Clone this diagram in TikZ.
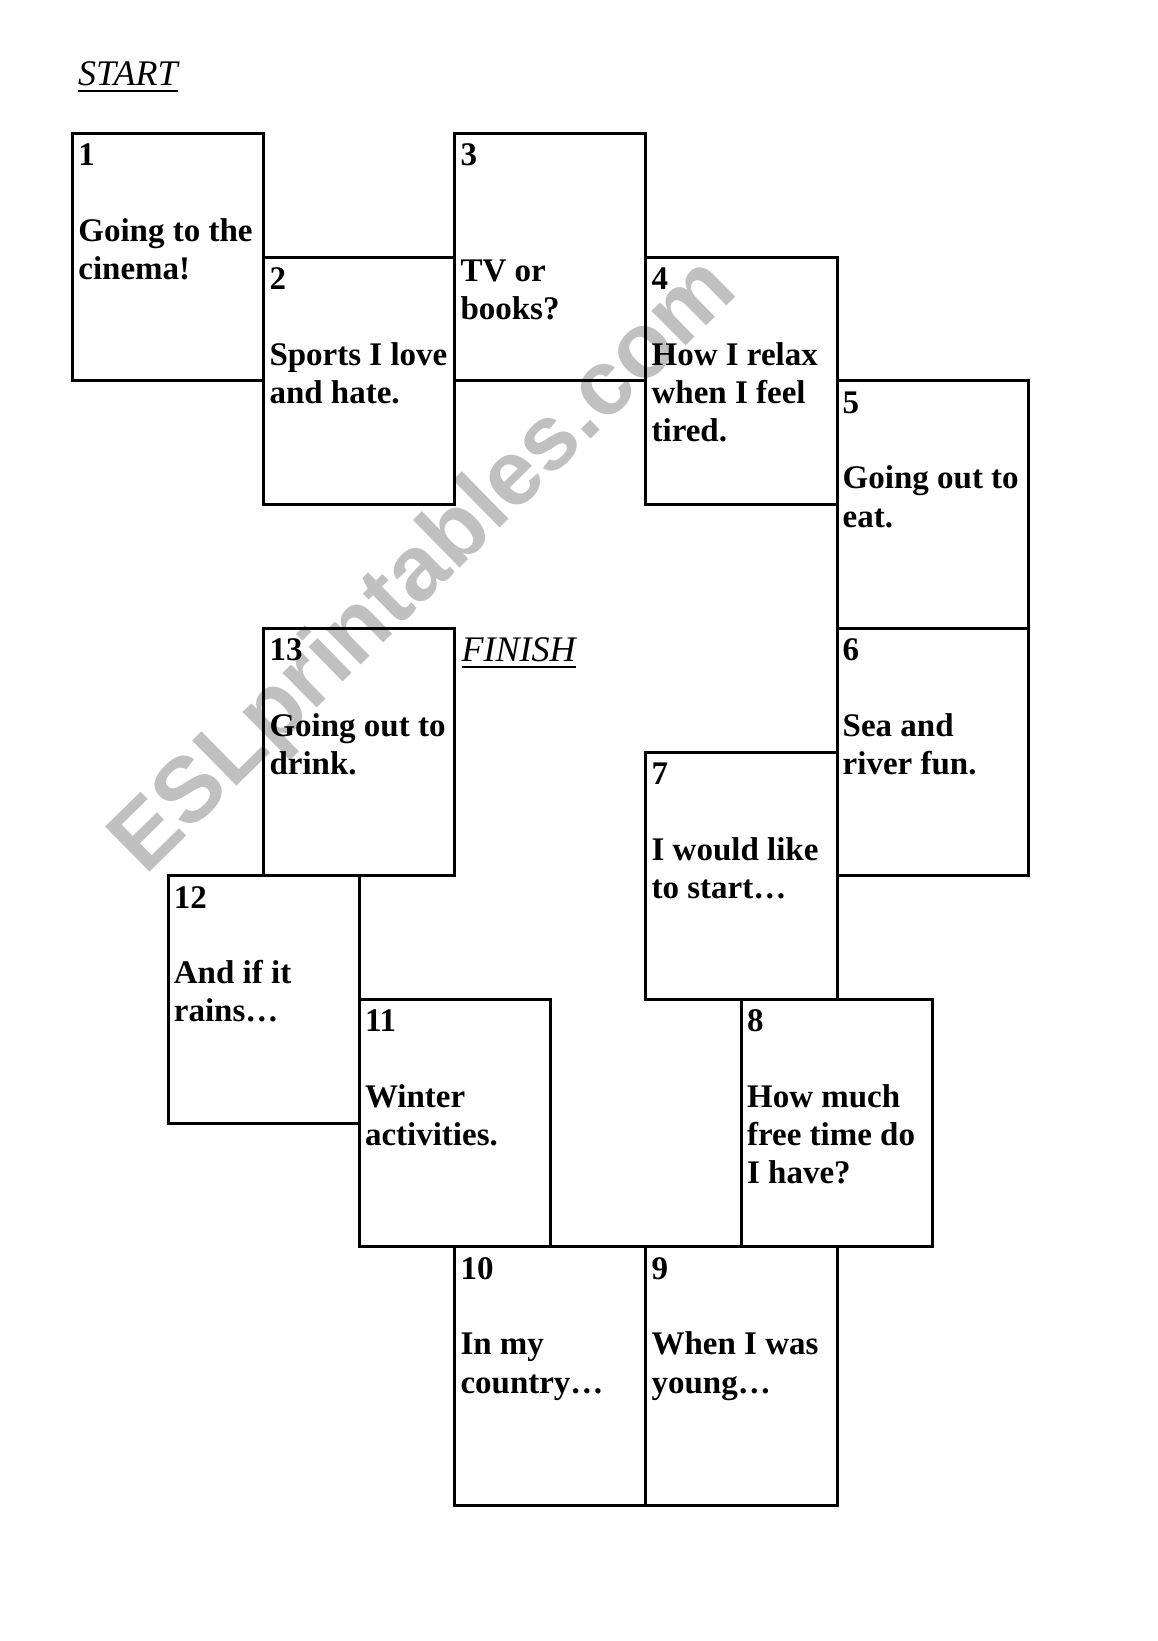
\documentclass[tikz,border=0pt]{standalone}
\usepackage{fontspec}
\setmainfont{Liberation Serif}
\newfontfamily\wmfont{Liberation Sans}
\usetikzlibrary{fit}
\definecolor{wmgray}{RGB}{192,192,192}
\tikzset{
  cardbox/.style={draw=black, line width=3pt, inner sep=0pt, outer sep=0pt},
  cardnum/.style={font=\fontsize{33}{38}\selectfont\bfseries, anchor=base west, inner sep=0pt},
  cardtxt/.style={cardnum},
  endlabel/.style={font=\fontsize{36}{40}\selectfont\itshape, anchor=base west, inner sep=0pt},
  uline/.style={line width=2.6pt},
  wm/.style={font=\wmfont\fontsize{92}{92}\selectfont\bfseries, text=wmgray, anchor=base west, inner sep=0pt},
}
\newcommand\card[8]{%
  \coordinate (#1nw) at (#2,#3);
  \coordinate (#1se) at (#4,#5);
  \node[cardbox, fit=(#1nw)(#1se)] (#1) {};
  \node[cardnum] (#1n) at ({#2+5.5},{#3+32.3}) {#6};
  \foreach \t [count=\i from 0] in {#7}
    \node[cardtxt] (#1l\i) at ({#2+5.5},{#3+#8+38.2*\i}) {\t};
}
\begin{document}
\begin{tikzpicture}[x=1pt,y=-1pt]
\fill[white] (0,0) rectangle (1157,1641);
\useasboundingbox (0,0) rectangle (1157,1641);
\node[wm, rotate=44.5] (water) at (145,877) {ESLprintables.com};
\node[endlabel] (start) at (78,85) {START};
\draw[uline] ([yshift=-6pt]start.base west) -- ([yshift=-6pt]start.base east);
\node[endlabel] (finish) at (461.5,661) {FINISH};
\draw[uline] ([yshift=-6pt]finish.base west) -- ([yshift=-6pt]finish.base east);
\card{c1}{72.7}{133.5}{263.8}{380.9}{1}{Going to the, cinema!}{108}
\card{c2}{263.8}{257.2}{454.8}{504.6}{2}{Sports I love, and hate.}{108}
\card{c3}{454.8}{133.5}{645.9}{380.9}{3}{TV or, books?}{147.5}
\card{c4}{645.9}{257.2}{837.0}{504.6}{4}{How I relax, when I feel, tired.}{108}
\card{c5}{837.0}{380.9}{1028}{628.3}{5}{Going out to, eat.}{108}
\card{c6}{837.0}{628.3}{1028}{875.7}{6}{Sea and, river fun.}{108}
\card{c7}{645.9}{752.0}{837.0}{999.4}{7}{I would like, to start…}{108}
\card{c8}{741.4}{999.4}{932.5}{1246.8}{8}{How much, free time do, I have?}{108}
\card{c9}{645.9}{1246.8}{837.0}{1505}{9}{When I was, young…}{108}
\card{c10}{454.8}{1246.8}{645.9}{1505}{10}{In my, country…}{108}
\card{c11}{359.3}{999.4}{550.4}{1246.8}{11}{Winter, activities.}{108}
\card{c12}{168.2}{875.7}{359.3}{1123.1}{12}{And if it, rains…}{108}
\card{c13}{263.8}{628.3}{454.8}{875.7}{13}{Going out to, drink.}{108}
\end{tikzpicture}
\end{document}
